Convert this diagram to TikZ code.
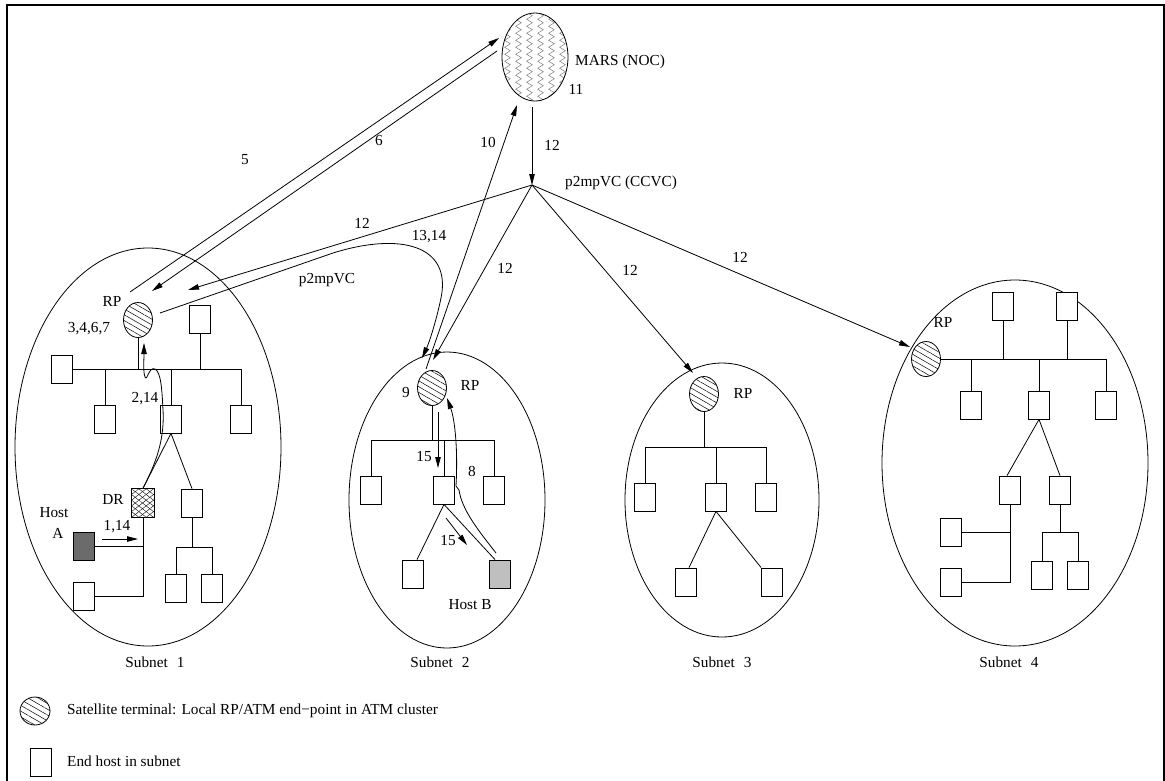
\documentclass[tikz,border=0pt]{standalone}
\usepackage{fontspec}
\setmainfont{Liberation Serif}
\usetikzlibrary{arrows.meta,shapes.geometric,patterns.meta,decorations.pathmorphing}
\begin{document}
\begin{tikzpicture}[x=1pt,y=-1pt,
  every node/.style={font=\fontsize{15.3}{18}\selectfont},
  ln/.style={line width=0.8pt},
  arr/.style={line width=0.8pt,-{Triangle[length=11pt,width=5.5pt]}},
  sub/.style={draw,ellipse,line width=0.8pt,inner sep=0pt},
  host/.style={draw,line width=0.8pt,minimum width=21pt,minimum height=28pt,inner sep=0pt,fill=white},
  rp/.style={draw,ellipse,line width=0.8pt,minimum width=29pt,minimum height=35pt,inner sep=0pt,
     pattern={Lines[angle=-30,distance=5pt,line width=0.5pt]}},
  drbox/.style={draw,line width=0.8pt,minimum width=23pt,minimum height=29pt,inner sep=0pt,
     pattern={Lines[angle=38,distance=4.5pt,line width=0.4pt]},
     path picture={\fill[pattern={Lines[angle=-38,distance=4.5pt,line width=0.4pt]}]
       (path picture bounding box.south west) rectangle (path picture bounding box.north east);}},
  lbl/.style={inner sep=1pt},
]
\useasboundingbox (0,0) rectangle (1165,780);
% frame
\draw[line width=2pt] (7,790) -- (7,5) -- (1164,5) -- (1164,790);

% ---------------- MARS ----------------
\node[draw,ellipse,line width=0.8pt,minimum width=66pt,minimum height=88pt,inner sep=0pt,
  path picture={\foreach \dx in {-27.5,-16.5,-5.5,5.5,16.5,27.5}{
     \draw[gray,line width=0.5pt,decorate,decoration={zigzag,segment length=7pt,amplitude=2.8pt}]
       ([xshift=\dx pt,yshift=50pt]path picture bounding box.center) --
       ([xshift=\dx pt,yshift=-50pt]path picture bounding box.center);}}]
  (mars) at (535,57) {};
\node[lbl,anchor=west] (marsl) at (574,62) {MARS (NOC)};
\node[lbl] (l11) at (576,89) {11};
\coordinate (p) at (532,185);
\coordinate (m12) at (532,107);
\draw[arr] (m12) -- (p);
\node[lbl] at (552,145) {12};
\node[lbl,anchor=west] (pl) at (564,183) {p2mpVC (CCVC)};

% ---------------- Subnet 1 ----------------
\node[sub,minimum width=266pt,minimum height=398pt] (s1) at (148,447) {};
\node[rp] (rp1) at (138,320) {};
\node[lbl] at (112,301) {RP};
\node[lbl] at (89,329) {3,4,6,7};
\node[host] (h1a) at (62,369) {};
\node[host] (h1b) at (200,319) {};
\node[host] (h1c) at (105,419) {};
\node[host] (h1d) at (171,419) {};
\node[host] (h1e) at (241,419) {};
\draw[ln] (rp1.south) -- (rp1.south |- h1a.east);
\draw[ln] (h1a.east) -- (h1e.north |- h1a.east) -- (h1e.north);
\draw[ln] (h1b.south) -- (h1b.south |- h1a.east);
\draw[ln] (h1c.north) -- (h1c.north |- h1a.east);
\draw[ln] (h1d.north) -- (h1d.north |- h1a.east);
\node[drbox] (dr) at (143,503) {};
\node[host] (h1f) at (192,503) {};
\draw[ln] (h1d.south) -- (dr.north);
\draw[ln] (h1d.south) -- (h1f.north);
\node[host,fill=black!58] (ha) at (84,546) {};
\node[host] (h1g) at (84,596) {};
\draw[ln] (dr.south) -- (dr.south |- h1g.east) -- (h1g.east);
\draw[ln] (ha.east) -- (ha.east -| dr.south);
\node[host] (h1h) at (176,588) {};
\node[host] (h1i) at (212,588) {};
\coordinate (j1) at (192,547);
\draw[ln] (h1f.south) -- (j1);
\draw[ln] (h1h.north) -- (h1h.north |- j1) -- (h1i.north |- j1) -- (h1i.north);
\coordinate (a1s) at (102,539);
\coordinate (a1e) at (138,539);
\draw[arr] (a1s) -- (a1e);
\node[lbl] at (117,527) {1,14};
\node[lbl] at (54,513) {Host};
\node[lbl] at (58,533) {A};
\node[lbl] at (113,499) {DR};
\coordinate (c214) at (144,343);
\draw[arr] (dr.north) .. controls (152,470) and (165,445) .. (163,410)
  .. controls (162,390) and (161,372) .. (155,369)
  .. controls (149,366) and (147,382) .. (145,377)
  .. controls (143,372) and (144,360) .. (c214);
\node[lbl] at (145,399) {2,14};
\node[lbl] at (155,662) {Subnet\hspace{9pt}1};

% ---------------- Subnet 2 ----------------
\node[sub,minimum width=196pt,minimum height=296pt] (s2) at (447,500) {};
\node[rp] (rp2) at (432,388) {};
\node[lbl] at (406,393) {9};
\node[lbl] at (470,385) {RP};
\node[host] (h2a) at (371,490) {};
\node[host] (h2b) at (444,490) {};
\node[host] (h2c) at (494,490) {};
\coordinate (j2) at (432,440);
\draw[ln] (rp2.south) -- (j2);
\draw[ln] (h2a.north) -- (h2a.north |- j2) -- (h2c.north |- j2) -- (h2c.north);
\draw[ln] (h2b.north) -- (h2b.north |- j2);
\node[host] (h2d) at (413,574) {};
\node[host,fill=black!25] (hb) at (500,574) {};
\draw[ln] (h2b.south) -- ([xshift=4pt]h2d.north);
\draw[ln] (h2b.south) -- ([xshift=-5pt]hb.north);
\node[lbl] at (470,605) {Host B};
\coordinate (a15s) at (438,412);
\coordinate (a15e) at (438,468);
\draw[arr] (a15s) -- (a15e);
\node[lbl] at (424,457) {15};
\coordinate (b15s) at (446,518);
\coordinate (b15e) at (467,545);
\draw[arr] (b15s) -- (b15e);
\node[lbl] at (448,541) {15};
\coordinate (c8s) at (496,553);
\coordinate (c8e) at (447,398);
\draw[arr] (c8s) .. controls (478,530) and (462,510) .. (459,490) -- (456,486)
  .. controls (458,450) and (455,420) .. (c8e);
\node[lbl] at (472,471) {8};
\node[lbl] at (440,662) {Subnet\hspace{9pt}2};

% ---------------- Subnet 3 ----------------
\node[sub,minimum width=194pt,minimum height=274pt] (s3) at (722,500) {};
\node[rp] (rp3) at (704,394) {};
\node[lbl] at (743,393) {RP};
\node[host] (h3a) at (645,497) {};
\node[host] (h3b) at (716,497) {};
\node[host] (h3c) at (766,497) {};
\coordinate (j3) at (704,447);
\draw[ln] (rp3.south) -- (j3);
\draw[ln] (h3a.north) -- (h3a.north |- j3) -- (h3c.north |- j3) -- (h3c.north);
\draw[ln] (h3b.north) -- (h3b.north |- j3);
\node[host] (h3d) at (686,582) {};
\node[host] (h3e) at (772,582) {};
\draw[ln] (h3b.south) -- ([xshift=3pt]h3d.north);
\draw[ln] (h3b.south) -- (h3e.north west);
\node[lbl] at (722,662) {Subnet\hspace{9pt}3};

% ---------------- Subnet 4 ----------------
\node[sub,minimum width=266pt,minimum height=366pt] (s4) at (1015,463) {};
\node[rp] (rp4) at (926,359) {};
\node[lbl] at (943,322) {RP};
\node[host] (h4a) at (1003,306) {};
\node[host] (h4b) at (1067,306) {};
\node[host] (h4c) at (971,405) {};
\node[host] (h4d) at (1039,405) {};
\node[host] (h4e) at (1106,405) {};
\draw[ln] (rp4.east) -- (h4e.north |- rp4.east) -- (h4e.north);
\draw[ln] (h4a.south) -- (h4a.south |- rp4.east);
\draw[ln] (h4b.south) -- (h4b.south |- rp4.east);
\draw[ln] (h4c.north) -- (h4c.north |- rp4.east);
\draw[ln] (h4d.north) -- (h4d.north |- rp4.east);
\node[host] (h4f) at (1010,490) {};
\node[host] (h4g) at (1060,490) {};
\draw[ln] (h4d.south) -- ([xshift=-3pt]h4f.north);
\draw[ln] (h4d.south) -- (h4g.north);
\node[host] (h4h) at (951,532) {};
\node[host] (h4i) at (951,582) {};
\draw[ln] (h4f.south) -- (h4f.south |- h4i.east) -- (h4i.east);
\draw[ln] (h4h.east) -- (h4h.east -| h4f.south);
\node[host] (h4j) at (1042,575) {};
\node[host] (h4k) at (1078,575) {};
\coordinate (j4) at (1060,532);
\draw[ln] (h4g.south) -- (j4);
\draw[ln] (h4j.north) -- (h4j.north |- j4) -- (h4k.north |- j4) -- (h4k.north);
\node[lbl] at (1009,662) {Subnet\hspace{9pt}4};

% ---------------- long connectors ----------------
\coordinate (m5) at (499,38);
\coordinate (r5) at (130,292);
\draw[arr] (r5) -- (m5);
\node[lbl] at (245,160) {5};
\coordinate (m6) at (497,51);
\coordinate (r6) at (152,291);
\draw[arr] (m6) -- (r6);
\node[lbl] at (379,141) {6};
\coordinate (r10) at (426,369);
\coordinate (m10) at (517,105);
\draw[arr] (r10) -- (m10);
\node[lbl] at (488,142) {10};
\coordinate (t1) at (188,290);
\coordinate (t2) at (433,360);
\coordinate (t3) at (693,373);
\coordinate (t4) at (910,347);
\draw[arr] (p) -- (t1);
\draw[arr] (p) -- (t2);
\draw[arr] (p) -- (t3);
\draw[arr] (p) -- (t4);
\node[lbl] at (362,223) {12};
\node[lbl] at (505,268) {12};
\node[lbl] at (630,270) {12};
\node[lbl] at (740,257) {12};
\coordinate (c13s) at (160,313);
\coordinate (c13e) at (422,358);
\draw[arr] (c13s) -- (333,253) .. controls (400,232) and (452,245) .. (441,298)
  .. controls (436,322) and (429,343) .. (c13e);
\node[lbl] at (429,237) {13,14};
\node[lbl] at (327,280) {p2mpVC};

% ---------------- legend ----------------
\node[draw,ellipse,line width=0.8pt,minimum width=30pt,minimum height=28pt,inner sep=0pt,
  pattern={Lines[angle=-30,distance=5pt,line width=0.5pt]}] (lg1) at (35,711) {};
\node[lbl,anchor=west] at (66,711) {Satellite terminal: Local RP/ATM end\textminus point in ATM cluster};
\node[host] (lg2) at (41,762) {};
\node[lbl,anchor=west] at (66,761) {End host in subnet};
\end{tikzpicture}
\end{document}
